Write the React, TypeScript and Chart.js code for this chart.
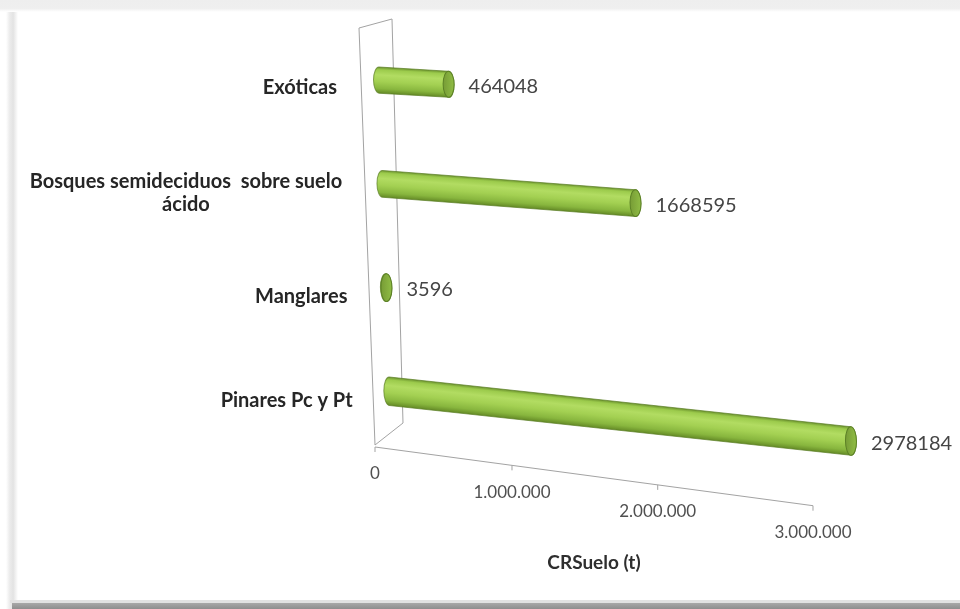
import React, { useEffect, useRef } from "react";
import { Chart, registerables } from "chart.js";

Chart.register(...registerables);

// Soil carbon reserve per forest formation (t)
const categories: (string | string[])[] = [
  "Exóticas",
  ["Bosques semideciduos  sobre suelo", "ácido"],
  "Manglares",
  "Pinares Pc y Pt",
];
const crSuelo = [464048, 1668595, 3596, 2978184];
const axisTicks = [0, 1000000, 2000000, 3000000];
const axisTickLabels = ["0", "1.000.000", "2.000.000", "3.000.000"];
const axisTitle = "CRSuelo (t)";

const W = 960;
const H = 609;

// Per-row perspective: rows further down sit closer to the viewer.
function rowGeom(d: number) {
  return {
    shift: d * 0.033,
    lift: 4 + d * 0.005,
    scale: (150 + d * 0.016) / 153,
    slope: 0.06 + d * 0.000153,
    thick: 1 + d * 0.0003,
  };
}

const cylinderPlugin = {
  id: "cylinder3d",
  beforeDraw(chart: any) {
    const ctx: CanvasRenderingContext2D = chart.ctx;
    const a = chart.chartArea;
    const xs = chart.scales.x;
    const ys = chart.scales.y;
    ctx.save();
    // page + framed panel with soft shadow
    ctx.fillStyle = "#ffffff";
    ctx.fillRect(0, 0, W, H);
    let g = ctx.createLinearGradient(0, 0, 0, 12);
    g.addColorStop(0, "#eeeeee");
    g.addColorStop(0.7, "#efefef");
    g.addColorStop(1, "#ffffff");
    ctx.fillStyle = g;
    ctx.fillRect(0, 0, W, 12);
    g = ctx.createLinearGradient(6, 0, 18, 0);
    g.addColorStop(0, "#ffffff");
    g.addColorStop(0.3, "#ececec");
    g.addColorStop(0.6, "#e3e3e3");
    g.addColorStop(1, "#ffffff");
    ctx.fillStyle = g;
    ctx.fillRect(6, 12, 12, H - 12);
    ctx.fillStyle = "#e2e2e2";
    ctx.fillRect(10, 600, W - 10, 3);
    g = ctx.createLinearGradient(0, 603, 0, H);
    g.addColorStop(0, "#a8a8a8");
    g.addColorStop(1, "#8e8e8e");
    ctx.fillStyle = g;
    ctx.fillRect(12, 603, W - 12, H - 603);

    const L = a.left;
    const T = a.top;
    const B = a.bottom;

    // side wall of the 3D frame
    ctx.strokeStyle = "#a3a3a3";
    ctx.lineWidth = 1;
    ctx.beginPath();
    ctx.moveTo(L - 20, T - 4);
    ctx.lineTo(L - 4, B - 4);
    ctx.lineTo(L + 24, B - 26);
    ctx.lineTo(L + 13, T - 13);
    ctx.closePath();
    ctx.stroke();

    // floor axis
    const x0 = L - 4;
    const y0 = B - 2;
    const floor = (v: number) => {
      const u = (xs.getPixelForValue(v) - xs.getPixelForValue(0)) / (xs.right - xs.left);
      const fx = x0 + (398.7 * u) / (1 - 0.0897 * u);
      return { fx, fy: y0 + (fx - x0) * 0.134 };
    };
    const end = floor(axisTicks[axisTicks.length - 1]);
    ctx.beginPath();
    ctx.moveTo(x0, y0);
    ctx.lineTo(end.fx, end.fy);
    ctx.stroke();
    ctx.fillStyle = "#505050";
    ctx.font = "17px Lato";
    ctx.textAlign = "center";
    ctx.textBaseline = "middle";
    axisTicks.forEach((v, i) => {
      const p = floor(v);
      ctx.beginPath();
      ctx.moveTo(p.fx, p.fy);
      ctx.lineTo(p.fx, p.fy + 5);
      ctx.stroke();
      ctx.fillText(axisTickLabels[i], p.fx, p.fy + 27);
    });
    ctx.fillStyle = "#2e2e2e";
    ctx.font = "bold 19px Lato";
    ctx.fillText(axisTitle, (x0 + end.fx) / 2, 563);

    // category labels, right-aligned along the wall
    const first = ys.getPixelForValue(0);
    ctx.fillStyle = "#262626";
    ctx.font = "bold 20px Lato";
    categories.forEach((c, i) => {
      const yc = ys.getPixelForValue(i);
      const d = yc - first;
      const right = L - 42 + d * 0.05;
      const lines = Array.isArray(c) ? c : [c];
      const w = Math.max(...lines.map((s) => ctx.measureText(s).width));
      const lh = 23;
      const top = yc + 2 + lines.length * 1.5 - ((lines.length - 1) * lh) / 2;
      ctx.textAlign = "center";
      lines.forEach((s, k) => ctx.fillText(s, right - w / 2, top + k * lh));
    });
    ctx.restore();
  },
  afterDatasetsDraw(chart: any) {
    const ctx: CanvasRenderingContext2D = chart.ctx;
    const meta = chart.getDatasetMeta(0);
    const ys = chart.scales.y;
    const first = ys.getPixelForValue(0);
    const values = chart.data.datasets[0].data as number[];
    meta.data.forEach((el: any, i: number) => {
      const yc = el.y;
      const d = yc - first;
      const gm = rowGeom(d);
      const base = el.base + gm.shift;
      const cy = yc - gm.lift;
      const len = (el.x - el.base) * gm.scale;
      const r = (el.height * gm.thick) / 2;
      const rx = 5.5;
      ctx.save();
      ctx.translate(base, cy);
      ctx.transform(1, gm.slope, 0, 1, 0, 0);
      // cylinder body
      ctx.beginPath();
      ctx.moveTo(0, -r);
      ctx.lineTo(len, -r);
      ctx.ellipse(len, 0, rx, r, 0, -Math.PI / 2, Math.PI / 2);
      ctx.lineTo(0, r);
      ctx.ellipse(0, 0, rx, r, 0, Math.PI / 2, Math.PI * 1.5);
      ctx.closePath();
      const g = ctx.createLinearGradient(0, -r, 0, r);
      g.addColorStop(0, "#6e9530");
      g.addColorStop(0.1, "#9ccb4c");
      g.addColorStop(0.3, "#b2dc62");
      g.addColorStop(0.55, "#a3d052");
      g.addColorStop(0.82, "#88b63e");
      g.addColorStop(1, "#648a26");
      ctx.fillStyle = g;
      ctx.fill();
      ctx.strokeStyle = "rgba(90,125,35,0.7)";
      ctx.lineWidth = 1;
      ctx.stroke();
      // front end cap
      ctx.beginPath();
      ctx.ellipse(len, 0, rx, r, 0, 0, Math.PI * 2);
      const cg = ctx.createLinearGradient(len - rx, 0, len + rx, 0);
      cg.addColorStop(0, "#779c36");
      cg.addColorStop(1, "#90bd45");
      ctx.fillStyle = cg;
      ctx.fill();
      ctx.strokeStyle = "#5c8126";
      ctx.stroke();
      ctx.restore();

      // value label
      ctx.save();
      ctx.fillStyle = "#454545";
      ctx.font = "20px Lato";
      ctx.textAlign = "left";
      ctx.textBaseline = "middle";
      ctx.fillText(String(values[i]), base + len + 20, cy + gm.slope * len + 2);
      ctx.restore();
    });
  },
};

export default function App() {
  const ref = useRef<HTMLCanvasElement>(null);
  useEffect(() => {
    if (!ref.current) return;
    const chart = new Chart(ref.current, {
      type: "bar",
      data: {
        labels: categories as any,
        datasets: [
          {
            data: crSuelo,
            backgroundColor: "rgba(0,0,0,0)",
            borderWidth: 0,
            barPercentage: 0.25,
            categoryPercentage: 1,
          },
        ],
      },
      options: {
        indexAxis: "y",
        responsive: false,
        animation: false,
        layout: { padding: { left: 379, right: W - 838, top: 32, bottom: H - 449 } },
        scales: {
          x: { type: "linear", min: 0, max: 3000000, display: false },
          y: { display: false },
        },
        plugins: { legend: { display: false }, tooltip: { enabled: false } },
      },
      plugins: [cylinderPlugin],
    });
    return () => chart.destroy();
  }, []);
  return (
    <div style={{ position: "fixed", left: 0, top: 0, width: W, height: H }}>
      <canvas ref={ref} width={W} height={H} style={{ display: "block" }} />
    </div>
  );
}
